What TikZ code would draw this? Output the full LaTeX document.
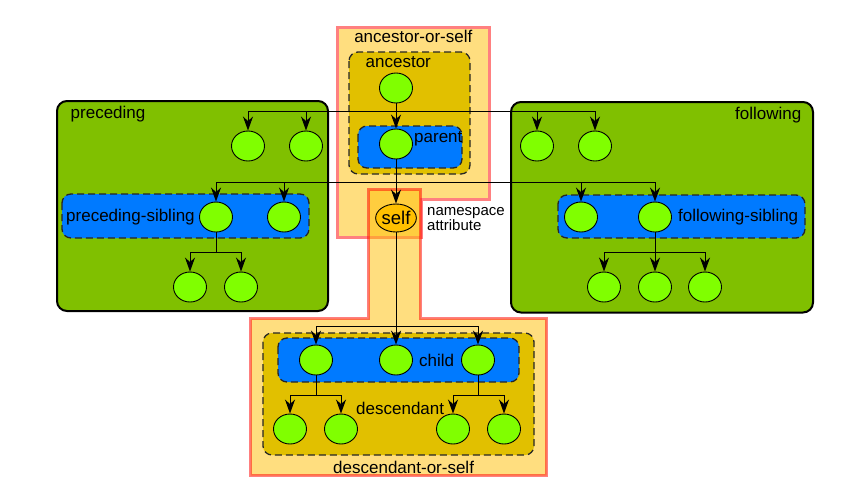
\documentclass[tikz,border=0pt]{standalone}
\usepackage{fontspec}
\setmainfont{Liberation Sans}
\usetikzlibrary{shapes.geometric,arrows.meta}
\definecolor{boxgreen}{RGB}{128,192,0}
\definecolor{nodegreen}{RGB}{128,255,0}
\definecolor{boxblue}{RGB}{0,122,255}
\definecolor{darkyel}{RGB}{225,192,0}
\definecolor{lightor}{RGB}{255,222,127}
\definecolor{orfill}{RGB}{255,190,0}
\definecolor{pinkb}{RGB}{255,128,128}
\definecolor{selfor}{RGB}{255,192,0}
\begin{document}
\begin{tikzpicture}[x=1pt,y=-1pt,
  nd/.style={ellipse,draw=black,line width=0.9pt,fill=nodegreen,minimum width=33pt,minimum height=30pt,inner sep=0pt},
  selfnd/.style={ellipse,draw=black,line width=0.9pt,fill=selfor,minimum width=34pt,minimum height=28pt,inner sep=0pt,font=\fontsize{18.5}{19}\selectfont},
  arr/.style={line width=1pt,-{Stealth[length=14pt,width=10pt,inset=4.5pt]}},
  grnbox/.style={draw=black,line width=2pt,fill=boxgreen,rounded corners=10pt},
  dbox/.style={draw=black!85,line width=1.3pt,dash pattern=on 7pt off 4pt,rounded corners=9pt},
  lbl/.style={inner sep=0pt,font=\fontsize{17}{18}\selectfont},
  lblsmall/.style={inner sep=0pt,align=left,font=\fontsize{15}{15}\selectfont},
]
\useasboundingbox (0,0) rectangle (858,479);
% ancestor-or-self region
\draw[fill=lightor,draw=pinkb,line width=3pt]
  (337.5,27) -- (489.5,27) -- (489.5,199.5) -- (421.5,199.5) -- (421.5,237.5) -- (337.5,237.5) -- cycle;
% descendant-or-self region
\draw[fill=orfill,fill opacity=0.5,draw=red,draw opacity=0.5,line width=3pt]
  (368.5,189.5) -- (420.5,189.5) -- (420.5,318.5) -- (546.5,318.5) -- (546.5,475.5)
  -- (250.5,475.5) -- (250.5,318.5) -- (368.5,318.5) -- cycle;
% preceding / following
\draw[grnbox] (57,101) rectangle (328,311);
\draw[grnbox] (511,102) rectangle (813,312.5);
% ancestor / parent
\draw[dbox,fill=darkyel] (349,52) rectangle (470,174);
\draw[dbox,fill=boxblue] (358,126) rectangle (462,168);
% sibling boxes
\draw[dbox,fill=boxblue] (62,194) rectangle (309,238);
\draw[dbox,fill=boxblue] (558,195) rectangle (805,238);
% descendant / child
\draw[dbox,fill=darkyel] (263,333) rectangle (534,455);
\draw[dbox,fill=boxblue] (278,338) rectangle (519,382);

% nodes
\node[nd] (anc) at (396,88) {};
\node[nd] (par) at (396,144) {};
\node[selfnd] (self) at (396,218) {self};
\node[nd] (pa1) at (248,146) {};
\node[nd] (pa2) at (306,146) {};
\node[nd] (fa1) at (537,146) {};
\node[nd] (fa2) at (595,146) {};
\node[nd] (ps1) at (216,217) {};
\node[nd] (ps2) at (284,217) {};
\node[nd] (fs1) at (581,217) {};
\node[nd] (fs2) at (655,217) {};
\node[nd] (pd1) at (190,287) {};
\node[nd] (pd2) at (241,287) {};
\node[nd] (fd1) at (604,287) {};
\node[nd] (fd2) at (655,287) {};
\node[nd] (fd3) at (705,287) {};
\node[nd] (c1) at (316,360) {};
\node[nd] (c2) at (396,360) {};
\node[nd] (c3) at (478,360) {};
\node[nd] (d1) at (290,429) {};
\node[nd] (d2) at (341,429) {};
\node[nd] (d3) at (453,429) {};
\node[nd] (d4) at (504,429) {};

% branch levels
\coordinate (ya) at (0,111);
\coordinate (yb) at (0,182);
\coordinate (yc) at (0,326);
\coordinate (yd) at (0,252);
\coordinate (ye) at (0,395);

% connectors
\draw[arr] (anc) -- (par);
\draw[arr] (anc) -- (anc |- ya) -| (pa1);
\draw[arr] (anc) -- (anc |- ya) -| (pa2);
\draw[arr] (anc) -- (anc |- ya) -| (fa1);
\draw[arr] (anc) -- (anc |- ya) -| (fa2);
\draw[arr] (par) -- (self);
\draw[arr] (par) -- (par |- yb) -| (ps1);
\draw[arr] (par) -- (par |- yb) -| (ps2);
\draw[arr] (par) -- (par |- yb) -| (fs1);
\draw[arr] (par) -- (par |- yb) -| (fs2);
\draw[arr] (self) -- (c2);
\draw[arr] (self) -- (self |- yc) -| (c1);
\draw[arr] (self) -- (self |- yc) -| (c3);
\draw[arr] (ps1) -- (ps1 |- yd) -| (pd1);
\draw[arr] (ps1) -- (ps1 |- yd) -| (pd2);
\draw[arr] (fs2) -- (fs2 |- yd) -| (fd1);
\draw[arr] (fs2) -- (fd2);
\draw[arr] (fs2) -- (fs2 |- yd) -| (fd3);
\draw[arr] (c1) -- (c1 |- ye) -| (d1);
\draw[arr] (c1) -- (c1 |- ye) -| (d2);
\draw[arr] (c3) -- (c3 |- ye) -| (d3);
\draw[arr] (c3) -- (c3 |- ye) -| (d4);

% labels
\node[lbl,anchor=west] (lprec) at (70.5,114) {preceding};
\node[lbl,anchor=east] (lfol) at (801.5,115) {following};
\node[lbl,anchor=west] (lps) at (66,217) {preceding-sibling};
\node[lbl,anchor=west] (lfs) at (678,217) {following-sibling};
\node[lbl,anchor=west] (lpar) at (414,139) {parent};
\node[lbl] (lanc) at (398.3,62) {ancestor};
\node[lbl] (laos) at (413.3,36) {ancestor-or-self};
\node[lblsmall,anchor=west] (lns) at (427,219) {namespace\\attribute};
\node[lbl,anchor=west] (lch) at (419,360) {child};
\node[lbl,anchor=west] (ldes) at (356,408) {descendant};
\node[lbl,anchor=west] (ldos) at (333,467) {descendant-or-self};
\end{tikzpicture}
\end{document}
